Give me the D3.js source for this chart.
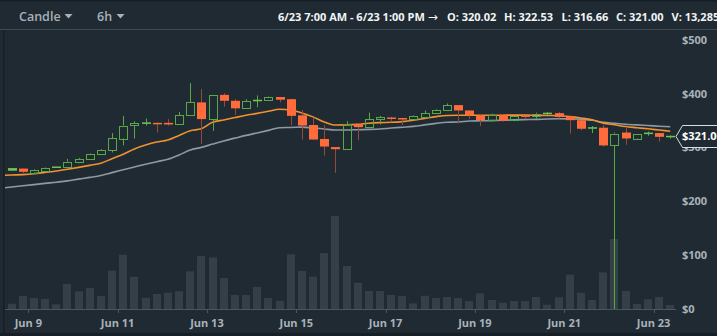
<!DOCTYPE html>
<html>
<head>
<meta charset="utf-8">
<script src="https://cdn.jsdelivr.net/npm/d3@7/dist/d3.min.js"></script>
<style>
  html, body { margin: 0; padding: 0; background: #1f2a33; overflow: hidden; }
  svg { display: block; font-family: "Open Sans", "Noto Sans", sans-serif; }
</style>
</head>
<body>
<svg id="chart" width="717" height="336"></svg>
<script>
// ---- data (6h candles, ETH-USD) ----
const candleStart = "2017-06-08T12:00:00Z";
const opens  = [258,261,254,258,263,264,273,279,288,294,317,341,345,346,346,343,360,384,353,398,387,373,387,388,394,390,360,342,316,301,297,344,338,352,356,355,353,357,364,369,379,369,360,351,361,351,360,359,363,364,358,351,336,337,305,328,317,326,327,320.02];
const highs  = [262,261,260,264,264,279,281,290,297,327,359,349,354,347,353,366,420,409,398,401,390,390,397,395,394,391,370,356,342,301,349,345,365,359,357,355,360,369,371,382,379,369,362,363,361,359,360,365,366,366,358,351,340,342,328,339,326,330,327,322.53];
const lows   = [257,252,253,258,263,263,271,279,286,291,304,317,341,328,341,343,360,307,331,376,361,373,375,387,384,341,315,315,285,253,297,314,337,343,348,342,351,353,364,369,345,353,340,351,348,349,353,354,361,354,326,332,327,302,0.1,305,314,322,311,316.66];
const closes = [261,255,259,263,264,274,279,289,295,317,341,345,346,345,343,360,384,353,398,387,373,386,388,394,389,359,341,315,302,297,344,338,353,356,354,353,359,364,369,379,369,360,351,361,350,359,357,363,364,357,351,335,337,304,326,317,326,327,320,321];
const volumes = [17600,43200,36500,33200,15600,83000,58800,69700,43200,127200,180300,107200,37500,49800,54100,58800,125200,176000,171600,102900,46500,46500,73000,36500,27600,181600,126200,107200,185900,308800,142800,87300,59800,59800,46500,43200,18900,44200,36500,39800,36500,26600,52100,29900,20900,26600,26600,39800,14300,38800,113900,54100,29900,121800,232400,59800,16600,32200,39800,13285];
// moving averages, first value belongs to the candle before the first one shown
const maFast = [248.1,249.1,249.8,251.3,253.9,256.5,259.7,263.2,266.9,271.0,279.4,287.5,297.6,304.8,310.4,314.1,322.7,331.4,334.9,347.2,351.3,355.8,360.2,363.6,367.5,371.4,369.9,364.3,357.1,347.8,342.0,342.2,343.1,345.3,346.5,347.0,348.3,350.7,354.1,357.6,359.8,360.0,360.0,360.0,360.0,360.2,360.4,360.4,360.0,359.7,359.3,357.6,355.0,351.7,345.5,342.4,339.2,337.0,334.9,332.7,330.5];
const maSlow = [224.3,226.8,229.0,231.2,233.5,235.7,238.1,241.4,244.6,248.1,253.5,258.7,263.9,269.0,273.8,278.4,286.2,295.5,300.4,306.5,312.4,317.6,322.7,327.3,332.0,337.0,337.4,338.1,336.6,334.6,332.7,332.7,333.3,333.8,334.6,336.4,337.9,339.4,342.2,345.0,347.2,347.6,349.4,349.8,350.2,350.7,351.5,352.0,352.4,353.2,353.5,353.3,353.0,350.7,347.0,345.2,343.5,342.2,341.1,339.8,338.7];
const priceTicks = [0,100,200,300,400,500];
const dateTicks = ["2017-06-09","2017-06-11","2017-06-13","2017-06-15","2017-06-17","2017-06-19","2017-06-21","2017-06-23"];
const headerRange = "6/23 7:00 AM - 6/23 1:00 PM";
const headerItems = ["O: 320.02","H: 322.53","L: 316.66","C: 321.00","V: 13,285"];
const lastPrice = 321.00;

// ---- layout / colours ----
const W = 717, H = 336;
const bg = "#1f2a33";
const upCol = "#58a846", downCol = "#ff6b3b", downWick = "#9a4a34";
const volCol = "#343f48";
const axisText = "#aab2b9";
const plotL = 5, plotR = 676, baseY = 309;

const svg = d3.select("#chart");
svg.append("rect").attr("width", W).attr("height", H).attr("fill", bg);
// borders
svg.append("rect").attr("x",0).attr("y",0).attr("width",W).attr("height",1.5).attr("fill","#151d24");
svg.append("line").attr("x1",0).attr("x2",W).attr("y1",29.5).attr("y2",29.5).attr("stroke","#3e4a54");
svg.append("rect").attr("x",3).attr("y",30).attr("width",1.5).attr("height",H).attr("fill","#161f26");
svg.append("rect").attr("x",0).attr("y",333).attr("width",W).attr("height",3).attr("fill","#161f26");

// header
const hdr = svg.append("g").attr("font-weight", 600);
hdr.append("text").attr("x",19).attr("y",17).attr("dy","0.35em").attr("font-size",12.5).attr("fill","#a9b1b8").text("Candle");
hdr.append("path").attr("d","M64.5,14 L72.5,14 L68.5,18.5 Z").attr("fill","#a9b1b8");
hdr.append("text").attr("x",97).attr("y",17).attr("dy","0.35em").attr("font-size",12.5).attr("fill","#a9b1b8").text("6h");
hdr.append("path").attr("d","M116.5,14 L124.5,14 L120.5,18.5 Z").attr("fill","#a9b1b8");
const hx = [447, 504, 561.5, 616, 671.5];
const rng = hdr.append("text").attr("x",278).attr("y",17).attr("dy","0.35em").attr("font-size",11).attr("font-weight",700).attr("fill","#f2f4f5");
rng.append("tspan").text(headerRange + " ");
rng.append("tspan").attr("font-family","DejaVu Sans").attr("font-weight",400).attr("font-size",12).text("\u2192");
hdr.selectAll("text.item").data(headerItems).join("text").attr("class","item")
  .attr("x",(d,i)=>hx[i]).attr("y",17).attr("dy","0.35em").attr("font-size",11).attr("font-weight",700).attr("fill","#f2f4f5").text(d=>d);

// scales
const parse = d3.utcParse("%Y-%m-%d");
const x = d3.scaleUtc().domain([parse("2017-06-08"), parse("2017-06-24")]).range([28.3 - 44.66, 28.3 + 15*44.66]);
const y = d3.scaleLinear().domain([0, 500]).range([baseY, 40]);
const yVol = d3.scaleLinear().domain([0, 332000]).range([baseY, 209]);

const t0 = new Date(candleStart).getTime();
const sixH = 6*3600*1000;
const candles = opens.map((o,i)=>({o, h:highs[i], l:lows[i], c:closes[i], v:volumes[i], t:new Date(t0 + i*sixH + sixH/2)}));
const maTimes = maFast.map((d,i)=> new Date(t0 + (i-1)*sixH + sixH/2));

svg.append("clipPath").attr("id","plot").append("rect").attr("x",plotL).attr("y",30).attr("width",plotR-plotL).attr("height",baseY-30);
const plot = svg.append("g").attr("clip-path","url(#plot)");

// volume
plot.append("g").selectAll("rect").data(candles).join("rect")
  .attr("x", d=> Math.round(x(d.t)) - 4)
  .attr("width", 8)
  .attr("y", d=> yVol(d.v))
  .attr("height", d=> baseY - yVol(d.v))
  .attr("fill", volCol);

// moving averages
const line = d3.line().x((d,i)=>x(maTimes[i])).y(d=>y(d)).curve(d3.curveMonotoneX);
plot.append("path").attr("d", line(maSlow)).attr("fill","none").attr("stroke","#8f99a4").attr("stroke-width",1.6);
plot.append("path").attr("d", line(maFast)).attr("fill","none").attr("stroke","#f0922e").attr("stroke-width",1.6);

// candles
const cg = plot.append("g");
candles.forEach(d=>{
  const cx = Math.round(x(d.t)) + 0.5;
  const up = d.c >= d.o;
  const top = y(Math.max(d.o,d.c)), bot = y(Math.min(d.o,d.c));
  if (up) {
    cg.append("line").attr("x1",cx).attr("x2",cx).attr("y1",y(d.h)).attr("y2",top).attr("stroke",upCol);
    cg.append("line").attr("x1",cx).attr("x2",cx).attr("y1",bot).attr("y2",y(d.l)).attr("stroke",upCol);
    const bh = bot - top;
    if (bh < 2) {
      cg.append("rect").attr("x",cx-4.5).attr("y",top-0.5).attr("width",9).attr("height",Math.max(1.5,bh+1)).attr("fill","#6cc452");
    } else {
      cg.append("rect").attr("x",cx-4).attr("y",Math.round(top)+0.5).attr("width",8).attr("height",Math.round(bh)).attr("fill","none").attr("stroke",upCol);
    }
  } else {
    cg.append("line").attr("x1",cx).attr("x2",cx).attr("y1",y(d.h)).attr("y2",y(d.l)).attr("stroke",downWick);
    cg.append("rect").attr("x",cx-4.5).attr("y",top).attr("width",9).attr("height",Math.max(1.5,bot-top)).attr("fill",downCol);
  }
});

// x axis
const xa = svg.append("g");
xa.append("line").attr("x1",plotL).attr("x2",plotR).attr("y1",baseY+0.5).attr("y2",baseY+0.5).attr("stroke","#4a5660");
const dt = dateTicks.map(parse);
const fmt = d3.utcFormat("%b %-d");
xa.selectAll("line.tick").data(dt).join("line").attr("class","tick")
  .attr("x1",d=>Math.round(x(d))+0.5).attr("x2",d=>Math.round(x(d))+0.5).attr("y1",baseY).attr("y2",baseY+4).attr("stroke","#4a5660");
xa.selectAll("text").data(dt).join("text")
  .attr("x",d=>x(d)).attr("y",323).attr("dy","0.35em").attr("text-anchor","middle")
  .attr("font-size",11).attr("font-weight",700).attr("fill",axisText).text(d=>fmt(d));

// y axis (right)
svg.append("g").selectAll("text").data(priceTicks).join("text")
  .attr("x",682).attr("y",d=>y(d)).attr("dy","0.35em")
  .attr("font-size",11).attr("font-weight",700).attr("fill",axisText).text(d=>"$"+d);

// last price tag
const ly = Math.round(y(lastPrice)) + 0.5;
svg.append("path").attr("d",`M676,${ly} L682.5,${ly-11} L${W+2},${ly-11} L${W+2},${ly+11} L682.5,${ly+11} Z`)
  .attr("fill",bg).attr("stroke","#d8dde1").attr("stroke-width",1);
svg.append("text").attr("x",682).attr("y",ly).attr("dy","0.35em").attr("font-size",11).attr("font-weight",700).attr("fill","#ffffff").text("$"+lastPrice.toFixed(2));
</script>
</body>
</html>
